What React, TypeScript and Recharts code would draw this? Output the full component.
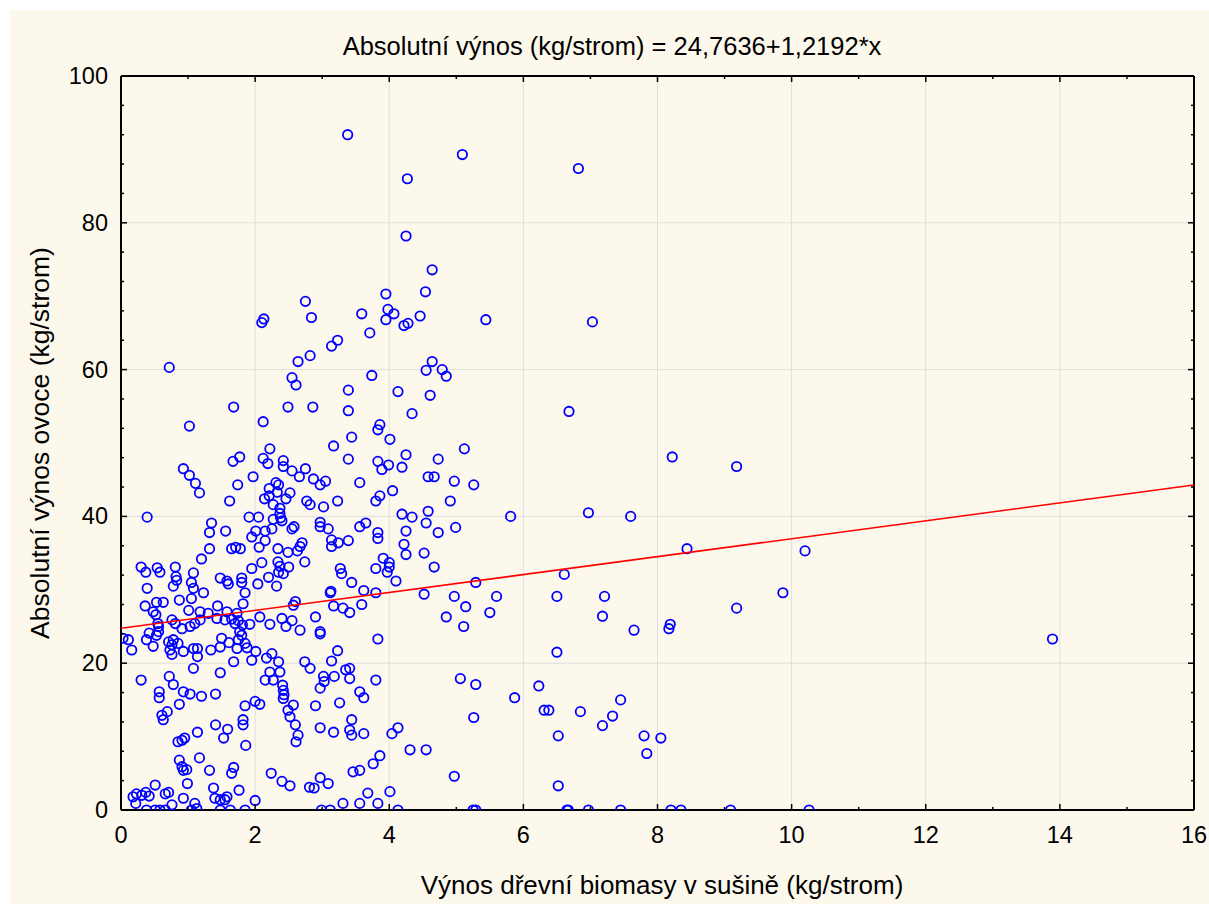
import React from 'react';
import { ScatterChart, Scatter, XAxis, YAxis, ReferenceLine } from 'recharts';

// [biomass x (kg/strom), fruit yield y (kg/strom)]
const pointsBelow1: [number, number][] = [
  [0.72,60.3],[0.93,46.5],[0.39,39.9],[0.30,33.1],[0.37,32.4],[0.54,33.0],[0.58,32.4],[0.81,33.1],
  [0.82,31.8],[0.83,31.3],[0.78,30.5],[0.39,30.2],[0.87,28.6],[0.53,28.3],[0.63,28.3],[0.36,27.8],
  [0.48,27.0],[0.52,26.6],[0.55,25.4],[0.56,25.0],[0.76,25.9],[0.81,25.4],[0.91,24.7],[0.03,23.4],
  [0.11,23.2],[0.16,21.8],[0.38,23.2],[0.42,24.1],[0.48,22.3],[0.53,23.8],[0.56,24.3],[0.71,22.9],
  [0.76,22.5],[0.78,23.2],[0.85,22.7],[0.93,21.6],[0.73,21.8],[0.76,21.2],[0.30,17.7],[0.72,18.2],
  [0.78,17.1],[0.57,16.1],[0.57,15.3],[0.93,16.1],[0.87,14.4],[0.61,12.9],[0.63,12.3],[0.69,13.4],
  [0.85,9.3],[0.91,9.5],[0.95,9.8],[0.87,6.8],[0.91,5.9],[0.93,5.4],[0.98,5.5],[0.99,3.6],
  [0.51,3.4],[0.18,1.8],[0.23,2.2],[0.31,2.0],[0.37,2.4],[0.42,1.9],[0.22,0.9],[0.66,2.2],
  [0.71,2.4],[0.76,0.7],[0.93,1.6],[0.38,0],[0.51,0],[0.58,0],[0.66,0],
];

const points1to2: [number, number][] = [
  [1.68,54.9],[1.02,52.3],[1.67,47.5],[1.77,48.1],[1.02,45.6],[1.11,44.5],[1.17,43.2],[1.97,45.4],
  [1.74,44.3],[1.62,42.1],[1.91,39.9],[1.35,39.1],[1.32,37.8],[1.56,38.0],[1.95,37.2],[1.32,35.6],
  [1.65,35.6],[1.71,35.8],[1.78,35.6],[1.20,34.2],[1.08,32.3],[1.95,32.9],[1.05,31.0],[1.08,30.2],
  [1.23,29.6],[1.48,31.6],[1.58,31.2],[1.60,30.8],[1.80,31.6],[1.80,31.0],[1.85,29.6],[1.05,28.8],
  [1.01,27.2],[1.18,27.0],[1.30,26.8],[1.44,27.8],[1.58,27.0],[1.73,26.8],[1.82,28.1],[1.03,25.0],
  [1.10,25.4],[1.18,25.9],[1.43,26.1],[1.55,25.9],[1.65,26.0],[1.75,25.8],[1.70,25.4],[1.81,25.2],
  [1.92,25.3],[1.77,24.3],[1.80,23.8],[1.75,23.2],[1.08,22.0],[1.14,22.0],[1.14,20.9],[1.08,19.3],
  [1.34,21.8],[1.48,22.2],[1.50,23.4],[1.61,22.8],[1.73,22.0],[1.85,22.7],[1.88,22.1],[1.68,20.2],
  [1.95,20.4],[1.48,18.7],[1.03,15.8],[1.20,15.5],[1.41,15.8],[1.85,14.2],[1.82,12.3],[1.82,11.6],
  [1.86,8.8],[1.41,11.6],[1.59,11.0],[1.53,9.8],[1.14,10.6],[1.17,7.1],[1.32,5.4],[1.68,5.8],
  [1.65,5.0],[1.38,3.0],[1.40,1.6],[1.48,1.4],[1.55,1.4],[1.58,1.8],[1.76,2.7],[1.10,0.9],
  [1.13,0.2],[1.05,0],[1.48,0],[1.63,0],[1.85,0],
];

const points2to3: [number, number][] = [
  [2.10,66.4],[2.13,66.9],[2.64,61.1],[2.82,61.9],[2.55,58.9],[2.61,57.9],[2.49,54.9],[2.86,54.9],
  [2.12,52.9],[2.22,49.2],[2.12,47.9],[2.19,47.2],[2.42,47.6],[2.42,46.8],[2.55,46.2],[2.66,45.4],
  [2.75,46.5],[2.31,44.6],[2.35,44.3],[2.21,43.8],[2.33,43.3],[2.52,43.2],[2.14,42.4],[2.21,42.8],
  [2.27,41.6],[2.46,42.4],[2.77,42.1],[2.82,41.6],[2.37,41.1],[2.37,40.4],[2.38,39.8],[2.05,39.9],
  [2.27,39.6],[2.40,39.4],[2.01,38.0],[2.15,38.0],[2.25,38.3],[2.15,36.7],[2.06,35.8],[2.55,38.3],
  [2.58,38.6],[2.70,36.4],[2.67,35.9],[2.63,35.3],[2.34,35.6],[2.49,35.1],[2.74,33.8],[2.10,33.7],
  [2.34,33.8],[2.37,33.2],[2.50,33.1],[2.35,32.4],[2.42,32.2],[2.04,30.8],[2.20,31.7],[2.32,30.5],
  [2.07,26.3],[2.22,25.3],[2.40,26.1],[2.55,25.8],[2.46,25.0],[2.67,24.5],[2.57,27.9],[2.60,28.4],
  [2.01,21.6],[2.17,20.7],[2.25,21.3],[2.35,20.2],[2.22,18.8],[2.15,17.7],[2.27,17.7],[2.37,18.8],
  [2.74,20.2],[2.82,19.3],[2.41,17.0],[2.42,16.3],[2.43,15.7],[2.42,15.2],[2.57,14.3],[2.49,13.6],
  [2.52,12.7],[2.60,11.6],[2.64,10.2],[2.61,9.3],[2.00,14.8],[2.07,14.4],[2.00,1.3],[2.24,5.0],
  [2.40,3.9],[2.52,3.3],[2.81,3.1],[2.75,69.3],[2.84,67.1],[2.87,45.1],[2.97,44.3],[2.97,39.2],
  [2.97,38.6],[2.90,26.3],[2.97,24.3],[2.97,24.0],[2.97,16.6],[2.90,14.2],[2.97,11.2],[2.97,4.4],
  [2.88,3.0],[2.99,0],
];

const points3to4: [number, number][] = [
  [3.38,92.0],[3.95,70.3],[3.98,68.2],[3.95,66.8],[3.59,67.6],[3.71,65.0],[3.14,63.2],[3.23,64.0],
  [3.74,59.2],[3.39,57.2],[3.39,54.4],[3.86,52.5],[3.83,51.8],[3.44,50.8],[3.17,49.6],[3.39,47.8],
  [3.83,47.5],[3.99,47.0],[3.89,46.4],[3.05,44.8],[3.56,44.6],[3.86,42.8],[3.80,42.1],[3.02,41.3],
  [3.23,42.1],[3.09,38.3],[3.56,38.6],[3.65,39.1],[3.83,37.8],[3.83,37.0],[3.14,36.8],[3.14,35.9],
  [3.24,36.4],[3.39,36.7],[3.27,32.9],[3.29,32.2],[3.80,32.9],[3.91,34.3],[4.00,33.7],[4.00,33.1],
  [3.97,32.4],[3.44,31.0],[3.12,29.6],[3.13,29.8],[3.62,29.9],[3.80,29.6],[3.17,27.8],[3.31,27.5],
  [3.41,26.9],[3.59,28.0],[3.83,23.3],[3.23,21.7],[3.14,20.3],[3.35,19.1],[3.41,19.3],[3.41,17.9],
  [3.02,18.2],[3.03,17.5],[3.18,18.2],[3.80,17.7],[3.56,16.1],[3.62,15.3],[3.26,14.6],[3.17,10.6],
  [3.44,12.3],[3.41,10.9],[3.44,10.2],[3.62,10.4],[3.76,6.3],[3.86,7.4],[3.46,5.2],[3.56,5.4],
  [3.09,3.6],[3.68,2.3],[3.31,0.9],[3.56,0.9],[3.83,0.9],[3.12,0],
];

const points4to6: [number, number][] = [
  [5.09,89.3],[4.27,86.0],[4.25,78.2],[4.64,73.6],[4.54,70.6],[4.07,67.6],[4.46,67.3],[4.22,66.0],
  [4.28,66.3],[5.44,66.8],[4.64,61.1],[4.55,59.9],[4.79,60.0],[4.85,59.1],[4.13,57.0],[4.61,56.5],
  [4.34,54.0],[4.01,50.5],[5.12,49.2],[4.25,48.4],[4.73,47.8],[4.19,46.7],[4.58,45.4],[4.67,45.4],
  [4.97,44.8],[5.26,44.3],[4.05,43.5],[4.91,42.1],[4.19,40.3],[4.34,39.9],[4.58,40.7],[4.55,39.1],
  [4.25,38.0],[4.73,37.8],[4.99,38.5],[4.22,36.2],[4.25,34.8],[4.52,35.0],[4.67,33.1],
  [4.10,31.2],[5.29,31.0],[4.52,29.4],[4.97,29.1],[5.14,27.7],[5.60,29.1],[4.85,26.3],[5.11,25.0],
  [5.50,26.9],[5.06,17.9],[5.29,17.1],[5.26,12.6],[4.04,10.4],[4.13,11.2],[4.31,8.2],[4.55,8.2],
  [4.97,4.6],[4.01,2.5],[4.13,0],[5.25,0],[5.29,0],[5.81,40.0],[5.87,15.3],
];

const pointsAbove6: [number, number][] = [
  [6.82,87.4],[7.03,66.5],[6.68,54.3],[8.22,48.1],[9.18,46.8],[6.97,40.5],[7.60,40.0],[8.44,35.6],
  [6.61,32.1],[6.50,29.1],[7.21,29.1],[7.18,26.4],[7.65,24.5],[8.19,25.3],[8.17,24.7],[9.18,27.5],
  [9.87,29.6],[6.50,21.5],[6.23,16.9],[6.31,13.6],[6.38,13.6],[6.85,13.4],[7.45,15.0],[7.33,12.8],
  [7.18,11.5],[6.52,10.1],[7.80,10.1],[8.05,9.8],[7.84,7.7],[6.52,3.3],[6.65,0],[6.67,0],
  [6.97,0],[7.45,0],[8.20,0],[8.35,0],[9.09,0],[10.20,35.3],[13.89,23.3],[10.26,0],
];

const xTicks = [0,1,2,3,4,5,6,7,8,9,10,11,12,13,14,15,16];
const yTicks = [0,4,8,12,16,20,24,28,32,36,40,44,48,52,56,60,64,68,72,76,80,84,88,92,96,100];
const xGridValues = [2,4,6,8,10,12,14];
const yGridValues = [20,40,60,80];
const INTERCEPT = 24.7636;
const SLOPE = 1.2192;
const X_MIN = 0;
const X_MAX = 16;
const fitEnds = [X_MIN, X_MAX];

const TITLE = 'Absolutní výnos (kg/strom) = 24,7636+1,2192*x';
const X_LABEL = 'Výnos dřevní biomasy v sušině (kg/strom)';
const Y_LABEL = 'Absolutní výnos ovoce (kg/strom)';

const FONT = "'Liberation Sans', Arial, sans-serif";
const FS = 23.5;

const data = [...pointsBelow1, ...points1to2, ...points2to3, ...points3to4, ...points4to6, ...pointsAbove6]
  .map(([x, y]) => ({ x, y }));
const fitData = fitEnds.map((x) => ({ x, y: INTERCEPT + SLOPE * x }));

const BottomTick = (p: any) => {
  const { x, y, payload } = p;
  const v = payload.value;
  const major = v % 2 === 0;
  return (
    <g>
      <line x1={x} x2={x} y1={y} y2={y - (major ? 6 : 3)} stroke="#000" strokeWidth={1.5} />
      {major && (
        <text x={x} y={y + 33} textAnchor="middle" fontSize={FS} fontFamily={FONT} fill="#000">{v}</text>
      )}
    </g>
  );
};
const TopTick = (p: any) => {
  const { x, y, payload } = p;
  const major = payload.value % 2 === 0;
  return <line x1={x} x2={x} y1={y} y2={y + (major ? 6 : 3)} stroke="#000" strokeWidth={1.5} />;
};
const LeftTick = (p: any) => {
  const { x, y, payload } = p;
  const v = payload.value;
  const major = v % 20 === 0;
  return (
    <g>
      <line x1={x} x2={x + (major ? 6 : 3)} y1={y} y2={y} stroke="#000" strokeWidth={1.5} />
      {major && (
        <text x={x - 13} y={y + 8} textAnchor="end" fontSize={FS} fontFamily={FONT} fill="#000">{v}</text>
      )}
    </g>
  );
};
const RightTick = (p: any) => {
  const { x, y, payload } = p;
  const major = payload.value % 20 === 0;
  return <line x1={x} x2={x - (major ? 6 : 3)} y1={y} y2={y} stroke="#000" strokeWidth={1.5} />;
};

const OpenCircle = (p: any) => (
  <circle cx={p.cx} cy={p.cy} r={4.7} fill="none" stroke="#0000ff" strokeWidth={1.8} />
);
const NoMarker = () => <g />;

export default function App() {
  return (
    <div style={{ position: 'absolute', left: 0, top: 0, width: 1209, height: 904, background: '#fff', overflow: 'hidden' }}>
      <div style={{ position: 'absolute', left: 10, top: 10, width: 1199, height: 894, background: '#fdf8ec' }}>
        <ScatterChart width={1199} height={894} margin={{ top: 65, right: 14, bottom: 0, left: 0 }}>
          <XAxis xAxisId={0} type="number" dataKey="x" domain={[X_MIN, X_MAX]} ticks={xTicks} interval={0}
            allowDataOverflow height={94} tickSize={0} tickMargin={0} tickLine={false}
            axisLine={{ stroke: '#000', strokeWidth: 2 }} tick={<BottomTick />} />
          <XAxis xAxisId="top" orientation="top" type="number" dataKey="x" domain={[X_MIN, X_MAX]} ticks={xTicks}
            interval={0} allowDataOverflow height={1} tickSize={0} tickMargin={0} tickLine={false}
            axisLine={{ stroke: '#000', strokeWidth: 2 }} tick={<TopTick />} />
          <YAxis yAxisId={0} type="number" dataKey="y" domain={[0, 100]} ticks={yTicks} interval={0}
            allowDataOverflow width={111} tickSize={0} tickMargin={0} tickLine={false}
            axisLine={{ stroke: '#000', strokeWidth: 2 }} tick={<LeftTick />} />
          <YAxis yAxisId="right" orientation="right" type="number" dataKey="y" domain={[0, 100]} ticks={yTicks}
            interval={0} allowDataOverflow width={1} tickSize={0} tickMargin={0} tickLine={false}
            axisLine={{ stroke: '#000', strokeWidth: 2 }} tick={<RightTick />} />
          {xGridValues.map((v) => (
            <ReferenceLine key={'gx' + v} x={v} stroke="#dedede" strokeWidth={1} />
          ))}
          {yGridValues.map((v) => (
            <ReferenceLine key={'gy' + v} y={v} stroke="#dedede" strokeWidth={1} />
          ))}
          <Scatter data={data} isAnimationActive={false} shape={<OpenCircle />} />
          <Scatter data={fitData} xAxisId="top" yAxisId="right" isAnimationActive={false} shape={<NoMarker />}
            line={{ stroke: '#ff0000', strokeWidth: 1.6 }} />
        </ScatterChart>
      </div>
      <div style={{ position: 'absolute', left: 212, width: 800, top: 31, lineHeight: '30px', textAlign: 'center',
        fontFamily: FONT, fontSize: 25.5, color: '#000', whiteSpace: 'nowrap' }}>{TITLE}</div>
      <div style={{ position: 'absolute', left: 262, width: 800, top: 870, lineHeight: '30px', textAlign: 'center',
        fontFamily: FONT, fontSize: 26, color: '#000', whiteSpace: 'nowrap' }}>{X_LABEL}</div>
      <div style={{ position: 'absolute', left: 40 - 300, width: 600, top: 443 - 15, lineHeight: '30px', textAlign: 'center',
        fontFamily: FONT, fontSize: 26.5, color: '#000', whiteSpace: 'nowrap', transform: 'rotate(-90deg)' }}>{Y_LABEL}</div>
    </div>
  );
}
